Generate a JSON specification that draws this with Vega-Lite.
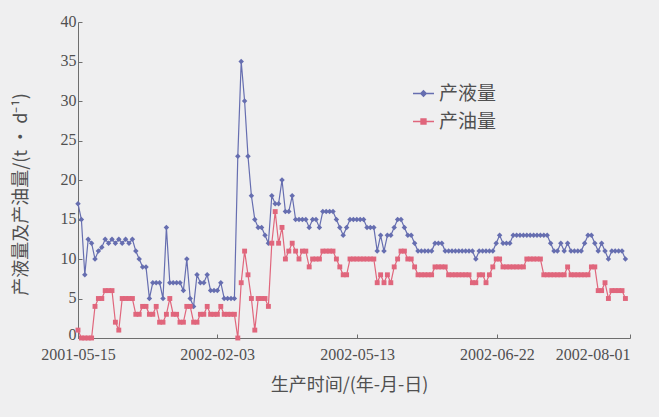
{
  "$schema": "https://vega.github.io/schema/vega-lite/v6.json",
  "width": 552,
  "height": 316,
  "autosize": {"type": "none"},
  "padding": {"left": 78, "top": 22, "right": 29, "bottom": 79},
  "background": "#efeff0",
  "config": {
    "view": {"stroke": null},
    "font": "Noto Sans CJK SC",
    "axis": {
      "grid": false,
      "domainColor": "#6e6e6e",
      "tickColor": "#6e6e6e",
      "labelColor": "#505050",
      "titleColor": "#505050",
      "labelFont": "Liberation Serif",
      "titleFont": "Noto Sans CJK SC",
      "titleFontWeight": "normal"
    }
  },
  "data": {
    "values": [
      {"n":0,"产液量":17,"产油量":1},{"n":1,"产液量":15,"产油量":0},{"n":2,"产液量":8,"产油量":0},{"n":3,"产液量":12.5,"产油量":0},
      {"n":4,"产液量":12,"产油量":0},{"n":5,"产液量":10,"产油量":4},{"n":6,"产液量":11,"产油量":5},{"n":7,"产液量":11.5,"产油量":5},
      {"n":8,"产液量":12.5,"产油量":6},{"n":9,"产液量":12,"产油量":6},{"n":10,"产液量":12.5,"产油量":6},{"n":11,"产液量":12,"产油量":2},
      {"n":12,"产液量":12.5,"产油量":1},{"n":13,"产液量":12,"产油量":5},{"n":14,"产液量":12.5,"产油量":5},{"n":15,"产液量":12,"产油量":5},
      {"n":16,"产液量":12.5,"产油量":5},{"n":17,"产液量":11,"产油量":3},{"n":18,"产液量":10,"产油量":3},{"n":19,"产液量":9,"产油量":4},
      {"n":20,"产液量":9,"产油量":4},{"n":21,"产液量":5,"产油量":3},{"n":22,"产液量":7,"产油量":3},{"n":23,"产液量":7,"产油量":4},
      {"n":24,"产液量":7,"产油量":2},{"n":25,"产液量":5,"产油量":2},{"n":26,"产液量":14,"产油量":3},{"n":27,"产液量":7,"产油量":5},
      {"n":28,"产液量":7,"产油量":3},{"n":29,"产液量":7,"产油量":3},{"n":30,"产液量":7,"产油量":2},{"n":31,"产液量":6,"产油量":2},
      {"n":32,"产液量":10,"产油量":4},{"n":33,"产液量":5,"产油量":4},{"n":34,"产液量":4,"产油量":2},{"n":35,"产液量":8,"产油量":2},
      {"n":36,"产液量":7,"产油量":3},{"n":37,"产液量":7,"产油量":3},{"n":38,"产液量":8,"产油量":4},{"n":39,"产液量":6,"产油量":3},
      {"n":40,"产液量":6,"产油量":3},{"n":41,"产液量":6,"产油量":3},{"n":42,"产液量":7,"产油量":4},{"n":43,"产液量":5,"产油量":3},
      {"n":44,"产液量":5,"产油量":3},{"n":45,"产液量":5,"产油量":3},{"n":46,"产液量":5,"产油量":3},{"n":47,"产液量":23,"产油量":0},
      {"n":48,"产液量":35,"产油量":7},{"n":49,"产液量":30,"产油量":11},{"n":50,"产液量":23,"产油量":8},{"n":51,"产液量":18,"产油量":5},
      {"n":52,"产液量":15,"产油量":1},{"n":53,"产液量":14,"产油量":5},{"n":54,"产液量":14,"产油量":5},{"n":55,"产液量":13,"产油量":5},
      {"n":56,"产液量":12,"产油量":4},{"n":57,"产液量":18,"产油量":12},{"n":58,"产液量":17,"产油量":16},{"n":59,"产液量":17,"产油量":12},
      {"n":60,"产液量":20,"产油量":14},{"n":61,"产液量":16,"产油量":10},{"n":62,"产液量":16,"产油量":11},{"n":63,"产液量":18,"产油量":12},
      {"n":64,"产液量":15,"产油量":11},{"n":65,"产液量":15,"产油量":10},{"n":66,"产液量":15,"产油量":11},{"n":67,"产液量":15,"产油量":11},
      {"n":68,"产液量":14,"产油量":9},{"n":69,"产液量":15,"产油量":10},{"n":70,"产液量":15,"产油量":10},{"n":71,"产液量":14,"产油量":10},
      {"n":72,"产液量":16,"产油量":11},{"n":73,"产液量":16,"产油量":11},{"n":74,"产液量":16,"产油量":11},{"n":75,"产液量":16,"产油量":11},
      {"n":76,"产液量":15,"产油量":10},{"n":77,"产液量":14,"产油量":9},{"n":78,"产液量":13,"产油量":8},{"n":79,"产液量":14,"产油量":8},
      {"n":80,"产液量":15,"产油量":10},{"n":81,"产液量":15,"产油量":10},{"n":82,"产液量":15,"产油量":10},{"n":83,"产液量":15,"产油量":10},
      {"n":84,"产液量":15,"产油量":10},{"n":85,"产液量":14,"产油量":10},{"n":86,"产液量":14,"产油量":10},{"n":87,"产液量":14,"产油量":10},
      {"n":88,"产液量":11,"产油量":7},{"n":89,"产液量":13,"产油量":8},{"n":90,"产液量":11,"产油量":7},{"n":91,"产液量":13,"产油量":8},
      {"n":92,"产液量":13,"产油量":7},{"n":93,"产液量":14,"产油量":9},{"n":94,"产液量":15,"产油量":10},{"n":95,"产液量":15,"产油量":11},
      {"n":96,"产液量":14,"产油量":11},{"n":97,"产液量":13,"产油量":10},{"n":98,"产液量":13,"产油量":10},{"n":99,"产液量":12,"产油量":9},
      {"n":100,"产液量":11,"产油量":8},{"n":101,"产液量":11,"产油量":8},{"n":102,"产液量":11,"产油量":8},{"n":103,"产液量":11,"产油量":8},
      {"n":104,"产液量":11,"产油量":8},{"n":105,"产液量":12,"产油量":9},{"n":106,"产液量":12,"产油量":9},{"n":107,"产液量":12,"产油量":9},
      {"n":108,"产液量":11,"产油量":9},{"n":109,"产液量":11,"产油量":8},{"n":110,"产液量":11,"产油量":8},{"n":111,"产液量":11,"产油量":8},
      {"n":112,"产液量":11,"产油量":8},{"n":113,"产液量":11,"产油量":8},{"n":114,"产液量":11,"产油量":8},{"n":115,"产液量":11,"产油量":8},
      {"n":116,"产液量":11,"产油量":7},{"n":117,"产液量":10,"产油量":7},{"n":118,"产液量":11,"产油量":8},{"n":119,"产液量":11,"产油量":8},
      {"n":120,"产液量":11,"产油量":7},{"n":121,"产液量":11,"产油量":8},{"n":122,"产液量":11,"产油量":9},{"n":123,"产液量":12,"产油量":10},
      {"n":124,"产液量":13,"产油量":10},{"n":125,"产液量":12,"产油量":9},{"n":126,"产液量":12,"产油量":9},{"n":127,"产液量":12,"产油量":9},
      {"n":128,"产液量":13,"产油量":9},{"n":129,"产液量":13,"产油量":9},{"n":130,"产液量":13,"产油量":9},{"n":131,"产液量":13,"产油量":9},
      {"n":132,"产液量":13,"产油量":10},{"n":133,"产液量":13,"产油量":10},{"n":134,"产液量":13,"产油量":10},{"n":135,"产液量":13,"产油量":10},
      {"n":136,"产液量":13,"产油量":10},{"n":137,"产液量":13,"产油量":8},{"n":138,"产液量":13,"产油量":8},{"n":139,"产液量":12,"产油量":8},
      {"n":140,"产液量":11,"产油量":8},{"n":141,"产液量":11,"产油量":8},{"n":142,"产液量":12,"产油量":8},{"n":143,"产液量":11,"产油量":8},
      {"n":144,"产液量":12,"产油量":9},{"n":145,"产液量":11,"产油量":8},{"n":146,"产液量":11,"产油量":8},{"n":147,"产液量":11,"产油量":8},
      {"n":148,"产液量":11,"产油量":8},{"n":149,"产液量":12,"产油量":8},{"n":150,"产液量":13,"产油量":8},{"n":151,"产液量":13,"产油量":9},
      {"n":152,"产液量":12,"产油量":9},{"n":153,"产液量":11,"产油量":6},{"n":154,"产液量":12,"产油量":6},{"n":155,"产液量":11,"产油量":7},
      {"n":156,"产液量":10,"产油量":5},{"n":157,"产液量":11,"产油量":6},{"n":158,"产液量":11,"产油量":6},{"n":159,"产液量":11,"产油量":6},
      {"n":160,"产液量":11,"产油量":6},{"n":161,"产液量":10,"产油量":5}
    ]
  },
  "transform": [{"fold": ["产液量", "产油量"], "as": ["series", "value"]}],
  "encoding": {
    "x": {
      "field": "n",
      "type": "quantitative",
      "scale": {"domain": [0, 162.35], "nice": false, "zero": false},
      "axis": {
        "values": [0, 40.9, 82.1, 123.2, 162.35],
        "labelExpr": "datum.value < 1 ? '2001-05-15' : datum.value < 50 ? '2002-02-03' : datum.value < 100 ? '2002-05-13' : datum.value < 150 ? '2002-06-22' : '2002-08-01'",
        "labelAlign": {"condition": {"test": "datum.value > 160", "value": "right"}, "value": "center"},
        "labelFontSize": 16,
        "labelBaseline": "top",
        "labelPadding": 12,
        "tickSize": -4,
        "labelOverlap": false,
        "labelBound": false,
        "labelFlush": false,
        "title": "生产时间/(年-月-日)",
        "titleFontSize": 18,
        "titleX": 271,
        "titleY": 47,
        "titleBaseline": "middle"
      }
    },
    "y": {
      "field": "value",
      "type": "quantitative",
      "scale": {"domain": [0, 40], "nice": false},
      "axis": {
        "values": [0, 5, 10, 15, 20, 25, 30, 35, 40],
        "labelFontSize": 16,
        "labelPadding": 6,
        "labelOffset": {"condition": {"test": "datum.value === 0", "value": -4}, "value": -1},
        "tickSize": -4,
        "title": "产液量及产油量/(t · d⁻¹)",
        "titleFontSize": 18,
        "titleAngle": 270,
        "titleX": -57,
        "titleY": 172,
        "titleBaseline": "middle"
      }
    },
    "color": {
      "field": "series",
      "type": "nominal",
      "scale": {"domain": ["产液量", "产油量"], "range": ["#666eb0", "#e0667c"]},
      "legend": {
        "title": null,
        "orient": "none",
        "legendX": 334,
        "legendY": 60,
        "padding": 0,
        "symbolSize": 441,
        "symbolStrokeWidth": 1.3,
        "labelFontSize": 19,
        "labelColor": "#505050",
        "labelFont": "Noto Sans CJK SC",
        "labelOffset": 4,
        "rowPadding": 6,
        "encode": {
          "symbols": {
            "update": {
              "shape": {"signal": "datum.value === '产液量' ? 'M-1,0H1M0,-0.27L0.27,0L0,0.27L-0.27,0Z' : 'M-1,0H1M-0.24,-0.24H0.24V0.24H-0.24Z'"},
              "fill": {"signal": "datum.value === '产液量' ? '#666eb0' : '#e0667c'"},
              "stroke": {"signal": "datum.value === '产液量' ? '#666eb0' : '#e0667c'"},
              "opacity": {"value": 1}
            }
          }
        }
      }
    }
  },
  "layer": [
    {"mark": {"type": "line", "strokeWidth": 1.2}},
    {
      "transform": [{"filter": "datum.series === '产液量'"}],
      "mark": {"type": "point", "filled": true, "opacity": 1, "shape": "diamond", "size": 30}
    },
    {
      "transform": [{"filter": "datum.series === '产油量'"}],
      "mark": {"type": "point", "filled": true, "opacity": 1, "shape": "square", "size": 24}
    }
  ]
}
